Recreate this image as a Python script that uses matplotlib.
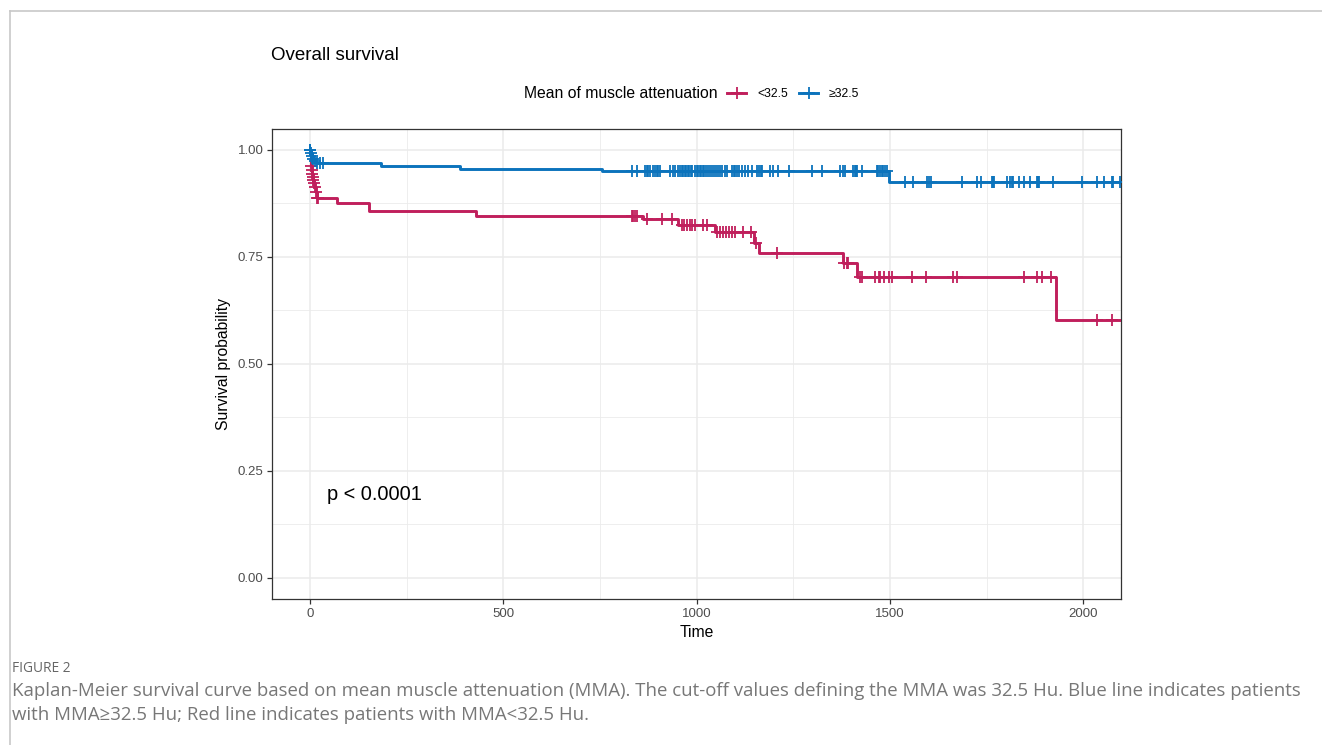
import numpy as np
import matplotlib
matplotlib.use('Agg')
import matplotlib.pyplot as plt
from matplotlib.lines import Line2D

# curva >=32.5 (blu): tempi dei gradini e sopravvivenza dopo ogni gradino
blu_t = [0, 2, 5, 8, 12, 16, 183, 389, 755, 1498]
blu_s = [1.0, 0.993, 0.986, 0.980, 0.975, 0.970, 0.963, 0.956, 0.950, 0.925]
blu_cens = [0, 1, 3, 6, 9, 13, 18, 25, 34,
            832, 845, 867, 871, 875, 879, 888, 893, 897, 901, 906, 931, 939, 944, 952, 957, 961,
            965, 969, 973, 977, 981, 985, 989, 995, 1000, 1004, 1008, 1012, 1016, 1020, 1025,
            1030, 1035, 1040, 1045, 1050, 1055, 1060, 1066, 1072, 1079, 1091, 1096, 1100, 1105,
            1110, 1117, 1125, 1133, 1143, 1156, 1160, 1165, 1169, 1190, 1198, 1211, 1239, 1298,
            1324, 1370, 1379, 1383, 1404, 1408, 1412, 1415, 1427, 1465, 1469, 1474, 1478, 1482,
            1486, 1491,
            1539, 1560, 1595, 1601, 1607, 1685, 1724, 1735, 1763, 1766, 1769, 1802, 1809, 1815,
            1819, 1834, 1846, 1862, 1879, 1882, 1885, 1920, 1996, 2034, 2053, 2073, 2077, 2095]

# curva <32.5 (rossa)
rosso_t = [0, 2, 3, 4, 6, 7, 9, 11, 13, 15, 18, 69, 153, 428, 861, 952, 1047, 1148, 1160,
           1378, 1414, 1929]
rosso_s = [1.0, 0.975, 0.962, 0.954, 0.945, 0.937, 0.930, 0.922, 0.914, 0.902, 0.887, 0.877,
           0.857, 0.846, 0.838, 0.825, 0.808, 0.783, 0.759, 0.736, 0.704, 0.603]
rosso_cens = [3, 4, 6, 7, 9, 11, 13, 15, 18, 21,
              832, 836, 840, 845, 872, 909, 935,
              961, 968, 975, 982, 989, 996, 1017, 1026,
              1052, 1060, 1068, 1076, 1084, 1092, 1100, 1120, 1140, 1154, 1207,
              1381, 1388, 1392,
              1422, 1427, 1462, 1470, 1474, 1483, 1498, 1504, 1556, 1593, 1662, 1672, 1846,
              1881, 1894, 1916, 2036, 2073]

t_fine = 2100
x_ticks = [0, 500, 1000, 1500, 2000]
y_ticks = [0.0, 0.25, 0.5, 0.75, 1.0]

col_rosso = '#C01F5C'
col_blu = '#0B73BC'

W, H = 1322, 745
fig = plt.figure(figsize=(W / 100, H / 100), dpi=100)
plt.rcParams['font.family'] = ['Liberation Sans', 'DejaVu Sans']


def fx(x):
    return x / W


def fy(y):
    return 1 - y / H


# cornice della pagina
fig.add_artist(Line2D([fx(9.5), fx(9.5)], [fy(10.5), 0], color='#C8C8C8', lw=1.2))
fig.add_artist(Line2D([fx(9.5), 1], [fy(10.5), fy(10.5)], color='#C8C8C8', lw=1.2))

ax = fig.add_axes([fx(271.7), fy(599.3), fx(1121) - fx(271.7), fy(128.6) - fy(599.3)])


def gradini(t, s, cens, col):
    t_all = list(t) + [t_fine]
    s_all = list(s) + [s[-1]]
    ax.step(t_all, s_all, where='post', color=col, lw=2.1, zorder=3)
    idx = np.searchsorted(t, cens, side='right') - 1
    ax.plot(cens, np.array(s)[idx], ls='none', marker='+', ms=8, mew=1.3, color=col, zorder=4)


gradini(rosso_t, rosso_s, rosso_cens, col_rosso)
gradini(blu_t, blu_s, blu_cens, col_blu)

ax.set_xlim(-99, 2097)
ax.set_ylim(-0.05, 1.05)
ax.set_xticks(x_ticks)
ax.set_yticks(y_ticks)
ax.set_yticklabels([f'{v:.2f}' for v in y_ticks])
ax.set_xticks([250, 750, 1250, 1750], minor=True)
ax.set_yticks([0.125, 0.375, 0.625, 0.875], minor=True)
ax.grid(True, which='major', color='#EBEBEB', lw=1.1, zorder=0)
ax.grid(True, which='minor', color='#EBEBEB', lw=0.6, zorder=0)
ax.set_axisbelow(True)
ax.tick_params(which='major', length=3.5, width=0.9, color='#333333', labelcolor='#4D4D4D',
               labelsize=9.5, pad=2.5)
ax.tick_params(which='minor', length=0)
for sp in ax.spines.values():
    sp.set_color('#333333')
    sp.set_linewidth(0.9)

ax.set_xlabel('Time', fontsize=11.3, labelpad=4)
ax.set_ylabel('Survival probability', fontsize=11.3, labelpad=5)
ax.text(44, 0.196, 'p < 0.0001', fontsize=14.4, va='center', ha='left')

fig.text(fx(271), fy(56), 'Overall survival', fontsize=13.5, va='center', ha='left')

# legenda in alto
fig.text(fx(524), fy(94), 'Mean of muscle attenuation', fontsize=11.3, va='center', ha='left')
for x0, col, lab in [(727, col_rosso, '<32.5'), (799, col_blu, '≥32.5')]:
    fig.add_artist(Line2D([fx(x0), fx(x0 + 19)], [fy(93), fy(93)], color=col, lw=2.1))
    fig.add_artist(Line2D([fx(x0 + 9.5)], [fy(93)], marker='+', ms=8, mew=1.3, color=col))
    fig.text(fx(x0 + 30), fy(94), lab, fontsize=8.8, va='center', ha='left')

# didascalia
cap_font = ['Open Sans', 'DejaVu Sans']
fig.text(fx(12), fy(668), 'FIGURE 2', fontsize=9.9, color='#666666', va='center', ha='left',
         family=cap_font)
fig.text(fx(12), fy(691), 'Kaplan-Meier survival curve based on mean muscle attenuation (MMA). '
         'The cut-off values defining the MMA was 32.5 Hu. Blue line indicates patients',
         fontsize=13.4, color='#777777', va='center', ha='left', family=cap_font)
fig.text(fx(12), fy(715), 'with MMA≥32.5 Hu; Red line indicates patients with MMA<32.5 Hu.',
         fontsize=13.4, color='#777777', va='center', ha='left', family=cap_font)

fig.savefig('out.png', dpi=100)
